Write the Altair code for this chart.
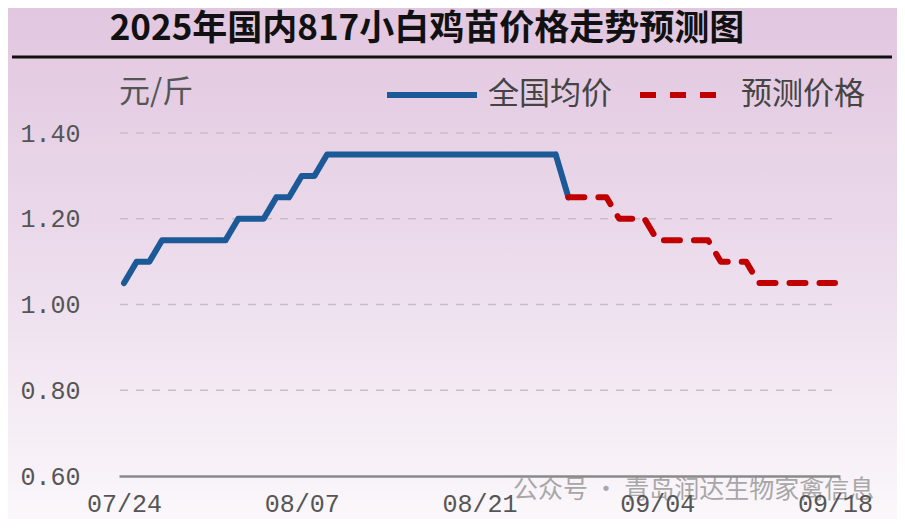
import altair as alt
import pandas as pd

# ---------------- data ----------------
start_date = "2025-07-24"
actual_prices = [1.05, 1.10, 1.10, 1.15, 1.15, 1.15, 1.15, 1.15, 1.15,
                 1.20, 1.20, 1.20, 1.25, 1.25, 1.30, 1.30,
                 1.35, 1.35, 1.35, 1.35, 1.35, 1.35, 1.35, 1.35, 1.35, 1.35,
                 1.35, 1.35, 1.35, 1.35, 1.35, 1.35, 1.35, 1.35, 1.35,
                 1.25]
forecast_prices = [1.25, 1.25, 1.25, 1.25, 1.20, 1.20, 1.20,
                   1.15, 1.15, 1.15, 1.15, 1.15, 1.10, 1.10, 1.10,
                   1.05, 1.05, 1.05, 1.05, 1.05, 1.05, 1.05]
series_names = ["全国均价", "预测价格"]
series_colors = ["#1b5a96", "#c00000"]
tick_dates = ["2025-07-24", "2025-08-07", "2025-08-21", "2025-09-04", "2025-09-18"]
y_ticks = [0.6, 0.8, 1.0, 1.2, 1.4]
title_text = "2025年国内817小白鸡苗价格走势预测图"
unit_text = "元/斤"
watermark_text = "公众号 · 青岛润达生物家禽信息"

actual_dates = pd.date_range(start_date, periods=len(actual_prices))
forecast_dates = pd.date_range(actual_dates[-1], periods=len(forecast_prices))

df = pd.concat([
    pd.DataFrame({"date": actual_dates.strftime("%Y-%m-%d"), "price": actual_prices, "series": series_names[0]}),
    pd.DataFrame({"date": forecast_dates.strftime("%Y-%m-%d"), "price": forecast_prices, "series": series_names[1]}),
], ignore_index=True)

W, H = 721, 343
PL, PT, PR, PB = 111, 125, 57, 43


def dt(s):
    y, m, d = (int(v) for v in s.split("-"))
    return alt.DateTime(year=y, month=m, date=d, utc=True)


x_scale = alt.Scale(type="utc", domain=[dt(tick_dates[0]), dt(tick_dates[-1])], padding=5)
y_scale = alt.Scale(domain=[0.6, 1.4], nice=False, zero=False)

x_enc = alt.X(
    "date:T", scale=x_scale,
    axis=alt.Axis(
        values=[dt(t) for t in tick_dates], format="%m/%d", title=None,
        grid=False, ticks=False, domainColor="#8a8a8a", domainWidth=2.5,
        labelFont="Liberation Mono", labelFontSize=25, labelColor="#555555",
        labelPadding=15, labelFlush=False, zindex=1,
    ),
)
y_enc = alt.Y(
    "price:Q", scale=y_scale,
    axis=alt.Axis(
        values=y_ticks, format=".2f", title=None, domain=False, ticks=False,
        grid=False,
        labelFont="Liberation Mono", labelFontSize=25, labelColor="#555555",
        labelPadding=39, zindex=1,
    ),
)

bg = alt.Chart(pd.DataFrame({"a": [0]})).mark_rect(
    fill={"gradient": "linear", "x1": 0, "y1": 0, "x2": 0, "y2": 1,
          "stops": [{"offset": 0, "color": "#e1c6df"},
                    {"offset": 0.5, "color": "#ecdcec"},
                    {"offset": 1, "color": "#fbf8fb"}]},
).encode(x=alt.value(-PL - 8), x2=alt.value(W + PR + 8),
         y=alt.value(-PT - 8), y2=alt.value(H + PB + 8))

grid = alt.Chart(pd.DataFrame({"v": y_ticks[1:]})).mark_rule(
    color="#c6bec6", strokeWidth=1.5, strokeDash=[8, 8],
).encode(y=alt.Y("v:Q", scale=y_scale), x=alt.value(1), x2=alt.value(W))

legend_cfg = dict(title=None, orient="none", legendX=265, legendY=-86,
                  direction="horizontal", symbolType="stroke",
                  symbolSize=8100, symbolStrokeWidth=6,
                  labelFont="Noto Sans CJK SC", labelFontSize=31,
                  labelColor="#444444", labelOffset=8,
                  columnPadding=16, labelLimit=300)

lines = alt.Chart(df).mark_line(strokeWidth=6, strokeCap="round", strokeJoin="round").encode(
    x=x_enc,
    y=y_enc,
    color=alt.Color("series:N", sort=series_names,
                    scale=alt.Scale(domain=series_names, range=series_colors),
                    legend=alt.Legend(**legend_cfg)),
    strokeDash=alt.StrokeDash("series:N", sort=series_names,
                              scale=alt.Scale(domain=series_names, range=[[1, 0], [16, 14]]),
                              legend=alt.Legend(**legend_cfg)),
)

title = alt.Chart(pd.DataFrame({"t": [title_text]})).mark_text(
    font="Noto Sans CJK SC", fontSize=35, fontWeight="bold", color="#111111",
    align="center", baseline="middle",
).encode(text="t:N", x=alt.value(308), y=alt.value(-104))

title_rule = alt.Chart(pd.DataFrame({"a": [0]})).mark_rule(color="#111111", strokeWidth=3).encode(
    x=alt.value(-107), x2=alt.value(773), y=alt.value(-76))

unit = alt.Chart(pd.DataFrame({"t": [unit_text]})).mark_text(
    font="Noto Sans CJK SC", fontSize=31, color="#555555", align="left", baseline="middle",
).encode(text="t:N", x=alt.value(0), y=alt.value(-40))

watermark = alt.Chart(pd.DataFrame({"t": [watermark_text]})).mark_text(
    font="Noto Sans CJK SC", fontSize=25, color="#9a9a9a", opacity=0.85,
    align="left", baseline="middle",
).encode(text="t:N", x=alt.value(394), y=alt.value(14 + H))

chart = alt.layer(bg, grid, lines, title, title_rule, unit, watermark).properties(
    width=W, height=H,
    autosize=alt.AutoSizeParams(type="none"),
    padding={"left": PL, "top": PT, "right": PR, "bottom": PB},
).configure(background="#ecdcec").configure_view(stroke=None)

chart.save("out.html", embed_options={"renderer": "svg", "actions": False})
